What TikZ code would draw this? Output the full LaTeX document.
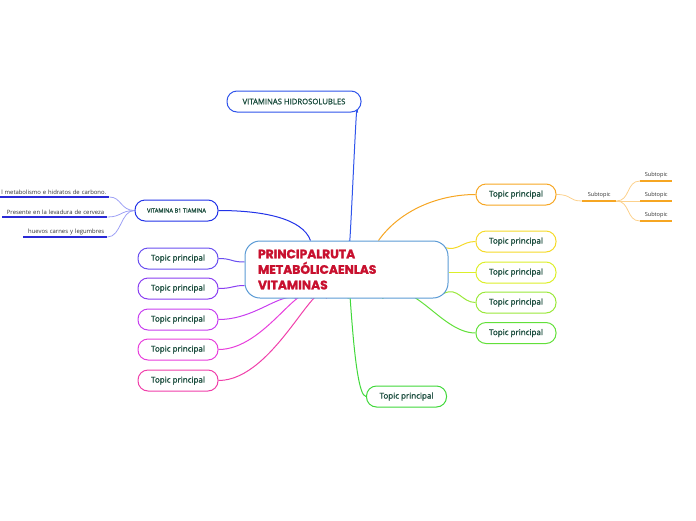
\documentclass[tikz,border=0pt]{standalone}
\usepackage{fontspec}
\setmainfont{Open Sans}
\newfontfamily\semib{Open Sans}[RawFeature={embolden=1.2}]
\newfontfamily\cfont{Poppins}[RawFeature={embolden=1.5}]
\usetikzlibrary{backgrounds}
\definecolor{tgreen}{HTML}{1B4D3E}
\definecolor{cred}{HTML}{C8102E}
\definecolor{cblue}{HTML}{5B9BD5}
\definecolor{hblue}{HTML}{2F54EB}
\definecolor{bblue}{HTML}{2233E8}
\definecolor{lblue}{HTML}{9DA0F5}
\definecolor{ulblue}{HTML}{2A2AD6}
\definecolor{ca}{HTML}{6A4FF0}
\definecolor{cb}{HTML}{8A3FF2}
\definecolor{cc}{HTML}{C83FF0}
\definecolor{cd}{HTML}{E83FDC}
\definecolor{ce}{HTML}{F03FAA}
\definecolor{corange}{HTML}{F6A623}
\definecolor{lorange}{HTML}{FCD18C}
\definecolor{cyellow}{HTML}{F5DA2A}
\definecolor{cyg}{HTML}{DCEF2A}
\definecolor{cg1}{HTML}{9AE83A}
\definecolor{cg2}{HTML}{62E03A}
\definecolor{cg3}{HTML}{40D83A}
\tikzset{
  topic/.style={draw, fill=white, rounded corners=10pt, minimum width=80pt, minimum height=21pt, inner sep=0pt, line width=1pt, text=tgreen, font=\semib\fontsize{8}{9}\selectfont},
  conn/.style={line width=1pt},
  leaf/.style={inner xsep=3pt, inner ysep=2pt, text=black!80, font=\fontsize{5.9}{7}\selectfont},
  subt/.style={inner xsep=0pt, inner ysep=2.5pt, text=black!80, font=\fontsize{5.6}{7}\selectfont},
}
\begin{document}
\begin{tikzpicture}[x=1pt,y=-1pt]
\useasboundingbox (0,0) rectangle (696,520);
% central
\node[draw=cblue, fill=white, rounded corners=15pt, minimum width=203pt, minimum height=57pt, line width=1pt, inner sep=0pt, align=left, text width=177pt, text=cred, font=\cfont\bfseries\fontsize{12.3}{15.5}\selectfont] (c) at (346.5,269.5) {PRINCIPALRUTA\\METABÓLICAENLAS\\VITAMINAS};
% top
\node[topic, draw=hblue, minimum width=134pt, font=\semib\fontsize{7.7}{9}\selectfont] (hid) at (294,101.5) {VITAMINAS HIDROSOLUBLES};
\node[topic, draw=bblue, minimum width=83pt, font=\semib\fontsize{5.7}{7}\selectfont] (b1) at (176.5,210.5) {VITAMINA B1 TIAMINA};
% leaves of B1
\node[leaf, text width=103pt, minimum width=109pt, anchor=south west] (l1) at (0,197) {\hbox to 103pt{\hss l metabolismo e hidratos de carbono.}};
\node[leaf, text width=99pt, minimum width=105pt, anchor=south west] (l2) at (2,217) {\hbox to 99pt{\hss Presente en la levadura de cerveza}};
\node[leaf, text width=78pt, minimum width=84pt, anchor=south west] (l3) at (23,237) {\hbox to 78pt{\hss huevos carnes y legumbres}};
% left topics
\node[topic, draw=ca] (t1) at (178,258.5) {Topic principal};
\node[topic, draw=cb] (t2) at (178,288.5) {Topic principal};
\node[topic, draw=cc] (t3) at (178,319.5) {Topic principal};
\node[topic, draw=cd] (t4) at (178,349.5) {Topic principal};
\node[topic, draw=ce] (t5) at (178,380.5) {Topic principal};
% right topics
\node[topic, draw=corange] (r1) at (516,194.5) {Topic principal};
\node[topic, draw=cyellow] (r2) at (516,241.5) {Topic principal};
\node[topic, draw=cyg] (r3) at (516,272.5) {Topic principal};
\node[topic, draw=cg1] (r4) at (516,302.5) {Topic principal};
\node[topic, draw=cg2] (r5) at (516,333) {Topic principal};
\node[topic, draw=cg3] (r6) at (406.5,396.5) {Topic principal};
% subtopics
\node[subt, minimum width=34pt, anchor=south west] (s0) at (582,201) {Subtopic};
\node[subt, minimum width=32pt, anchor=south west] (s1) at (640,181) {Subtopic};
\node[subt, minimum width=32pt, anchor=south west] (s2) at (640,201) {Subtopic};
\node[subt, minimum width=32pt, anchor=south west] (s3) at (640,221) {Subtopic};
% underlines
\draw[ulblue, line width=1.6pt] (l1.south west) -- (l1.south east);
\draw[ulblue, line width=1.6pt] (l2.south west) -- (l2.south east);
\draw[ulblue, line width=1.6pt] (l3.south west) -- (l3.south east);
\draw[corange, line width=1.8pt] (s0.south west) -- (s0.south east);
\draw[corange, line width=1.8pt] (s1.south west) -- (s1.south east);
\draw[corange, line width=1.8pt] (s2.south west) -- (s2.south east);
\draw[corange, line width=1.8pt] (s3.south west) -- (s3.south east);
\begin{scope}[on background layer]
\draw[conn, hblue] ([xshift=-4pt]hid.south east) .. controls +(0,-50) and +(0,45) .. ([xshift=2.5pt]c.north);
\draw[conn, bblue] (b1.east) .. controls +(45,0) and +(-8,-22) .. ([xshift=-36pt]c.north);
\draw[lblue, line width=0.8pt] (b1.west) .. controls +(-14,0) and +(12,0) .. (l1.south east);
\draw[lblue, line width=0.8pt] (b1.west) .. controls +(-14,0) and +(14,0) .. (l2.south east);
\draw[lblue, line width=0.8pt] (b1.west) .. controls +(-14,0) and +(14,0) .. (l3.south east);
\draw[conn, ca] (t1.east) .. controls +(14,0) and +(-14,0) .. ([yshift=7.5pt]c.west);
\draw[conn, cb] (t2.east) .. controls +(14,0) and +(-12,0) .. ([yshift=-16pt]c.west);
\draw[conn, cc] (t3.east) .. controls +(37,0) and +(-16,-7) .. ([xshift=-50pt]c.south);
\draw[conn, cd] (t4.east) .. controls +(47,0) and +(-11,-22) .. ([xshift=-35pt]c.south);
\draw[conn, ce] (t5.east) .. controls +(57,0) and +(-8,-32) .. ([xshift=-20pt]c.south);
\draw[conn, corange] ([xshift=32pt]c.north) .. controls +(22,-31) and +(-36,0) .. (r1.west);
\draw[conn, cyellow] ([xshift=-4pt,yshift=-7pt]c.north east) .. controls +(14,4) and +(-14,0) .. (r2.west);
\draw[conn, cyg] ([yshift=-3pt]c.east) .. controls +(12,0) and +(-12,0) .. (r3.west);
\draw[conn, cg1] ([xshift=-5pt,yshift=5pt]c.south east) .. controls +(15,-7) and +(-14,0) .. (r4.west);
\draw[conn, cg2] ([xshift=36pt]c.south) .. controls +(28,-27) and +(-36,0) .. (r5.west);
\draw[conn, cg3] ([xshift=1.5pt]c.south) .. controls +(1,-62) and +(-14,0) .. (r6.west);
\draw[lorange, line width=0.8pt] (r1.east) .. controls +(16,0) and +(-14,0) .. (s0.south west);
\draw[lorange, line width=0.8pt] (s0.south east) .. controls +(14,0) and +(-14,0) .. (s1.south west);
\draw[lorange, line width=0.8pt] (s0.south east) -- (s2.south west);
\draw[lorange, line width=0.8pt] (s0.south east) .. controls +(14,0) and +(-14,0) .. (s3.south west);
\end{scope}
\end{tikzpicture}
\end{document}
